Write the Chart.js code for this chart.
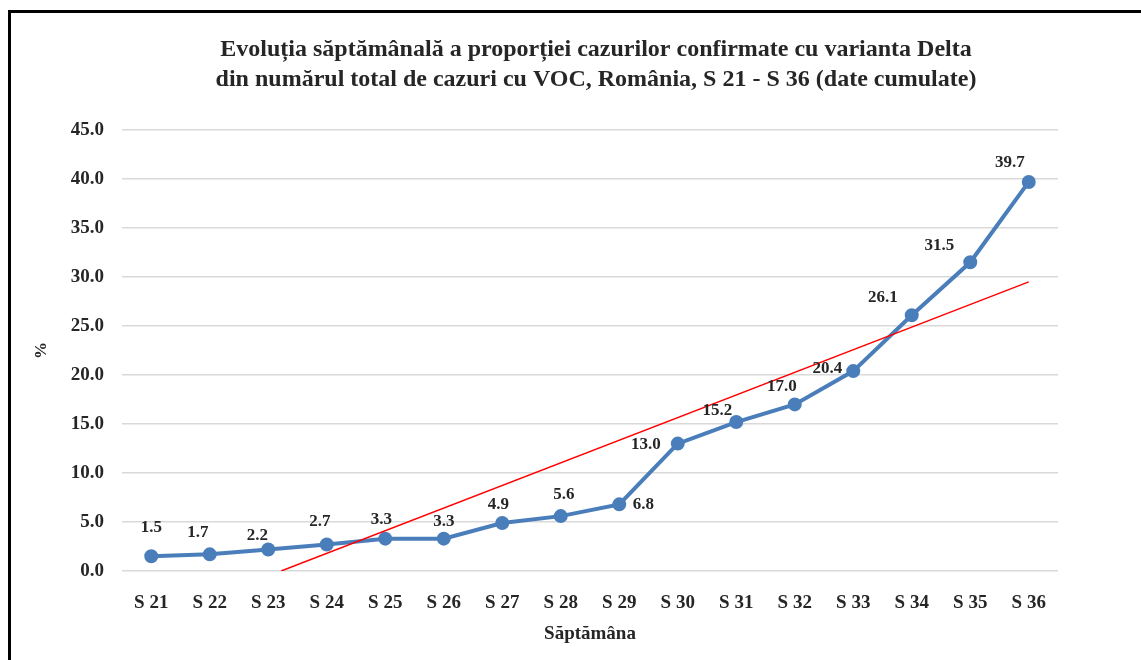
<!DOCTYPE html>
<html>
<head>
<meta charset="utf-8">
<script src="https://cdn.jsdelivr.net/npm/chart.js@4/dist/chart.umd.min.js"></script>
<style>
  body { margin: 0; background: #fff; overflow: hidden; }
  #frame {
    position: absolute; left: 8px; top: 10px; width: 1200px; height: 660px;
    border-left: 3px solid #000; border-top: 3px solid #000;
  }
  #chart { position: absolute; left: 0; top: 0; }
</style>
</head>
<body>
<div id="frame"><canvas id="chart" width="1170" height="647"></canvas></div>
<script>
const saptamani = ['S 21', 'S 22', 'S 23', 'S 24', 'S 25', 'S 26', 'S 27', 'S 28',
                   'S 29', 'S 30', 'S 31', 'S 32', 'S 33', 'S 34', 'S 35', 'S 36'];
const procentDelta = [1.5, 1.7, 2.2, 2.7, 3.3, 3.3, 4.9, 5.6, 6.8, 13.0, 15.2, 17.0, 20.4, 26.1, 31.5, 39.7];
// linia de tendinta (capetele, index de categorie 0..15)
const tendintaX = [2.22, 15];
const tendintaY = [0, 29.5];
const yTicks = [0, 5, 10, 15, 20, 25, 30, 35, 40, 45];

const serif = '"Liberation Serif", "Times New Roman", serif';
const textColor = '#262626';

// deplasarea etichetelor fata de punct (dx, dy)
const labelOffsets = [
  [0, -29], [-12, -22], [-11, -14], [-7, -23], [-4, -19], [0, -17], [-4, -18], [3, -22],
  [24, 0], [-32, 1], [-19, -11], [-13, -18], [-26, -2], [-29, -18], [-31, -17], [-19, -19]
];

const dataLabels = {
  id: 'dataLabels',
  afterDatasetsDraw(chart) {
    const ctx = chart.ctx;
    const meta = chart.getDatasetMeta(0);
    ctx.save();
    ctx.font = 'bold 17px ' + serif;
    ctx.fillStyle = textColor;
    ctx.textAlign = 'center';
    ctx.textBaseline = 'middle';
    meta.data.forEach((pt, i) => {
      const off = labelOffsets[i] || [0, -20];
      ctx.fillText(procentDelta[i].toFixed(1), pt.x + off[0], pt.y + off[1]);
    });
    ctx.restore();
  }
};

new Chart(document.getElementById('chart'), {
  type: 'line',
  data: {
    labels: saptamani,
    datasets: [{
      label: 'Delta',
      data: procentDelta,
      borderColor: '#4a7ebb',
      backgroundColor: '#4a7ebb',
      borderWidth: 4,
      pointRadius: 5,
      pointHoverRadius: 5,
      tension: 0,
      order: 1
    }, {
      label: 'Tendinta',
      data: tendintaX.map((x, i) => ({ x: x, y: tendintaY[i] })),
      xAxisID: 'xt',
      borderColor: '#ff0000',
      borderWidth: 1.5,
      pointRadius: 0,
      order: 0
    }]
  },
  options: {
    responsive: false,
    animation: false,
    layout: { padding: 0 },
    plugins: {
      legend: { display: false },
      tooltip: { enabled: false },
      title: {
        display: true,
        text: ['Evoluția săptămânală a proporției cazurilor confirmate cu varianta Delta',
               'din numărul total de cazuri cu VOC, România, S 21 - S 36 (date cumulate)'],
        color: textColor,
        font: { family: serif, size: 24, weight: 'bold', lineHeight: '30px' },
        padding: { top: 22, bottom: 35 }
      }
    },
    scales: {
      x: {
        offset: true,
        grid: { display: false, offset: true },
        border: { display: false },
        ticks: { color: textColor, font: { family: serif, size: 19, weight: 'bold' }, padding: 13 },
        title: {
          display: true, text: 'Săptămâna', color: textColor,
          font: { family: serif, size: 19, weight: 'bold' },
          padding: { top: 0, bottom: 15 }
        },
        afterFit(scale) { scale.height = 89; }
      },
      xt: {
        type: 'linear', display: false, min: -0.5, max: 15.5
      },
      y: {
        min: 0, max: 45,
        afterBuildTicks(scale) { scale.ticks = yTicks.map(v => ({ value: v })); },
        grid: { color: '#d9d9d9', lineWidth: 1.5, drawTicks: false },
        border: { display: false },
        ticks: {
          color: textColor, padding: 18,
          font: { family: serif, size: 19, weight: 'bold' },
          callback: v => v.toFixed(1)
        },
        title: {
          display: true, text: '%', color: textColor,
          font: { family: serif, size: 17, weight: 'bold' },
          padding: { top: 20, bottom: 0 }
        },
        afterFit(scale) { scale.width = 111; }
      },
      // axa goala in dreapta, doar pentru spatiu
      yr: {
        position: 'right', display: true,
        grid: { display: false, drawTicks: false },
        border: { display: false },
        ticks: { display: false },
        afterFit(scale) { scale.width = 123; }
      }
    }
  },
  plugins: [dataLabels]
});
</script>
</body>
</html>
